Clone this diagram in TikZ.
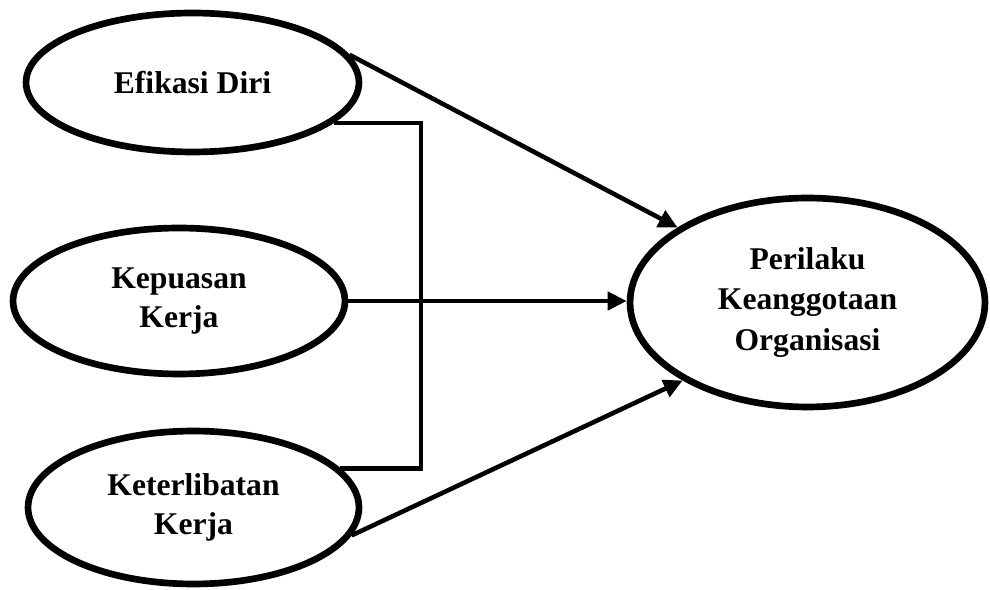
\documentclass[tikz,border=0pt]{standalone}
\usepackage{fontspec}
\setmainfont{Liberation Serif}
\usetikzlibrary{shapes.geometric,arrows.meta}
\begin{document}
\begin{tikzpicture}[x=0.02cm,y=-0.02cm,
  var/.style={ellipse,draw,line width=3.8pt,inner sep=0pt,align=center,
    font=\fontsize{18}{22}\selectfont\bfseries},
  link/.style={line width=2.6pt,-{Triangle[length=0.38cm,width=0.36cm]}},
  brace/.style={line width=2.7pt}]
\useasboundingbox (0,0) rectangle (990,590);
\node[var,minimum width=6.66cm,minimum height=2.78cm] (ef) at (192.5,82.5) {Efikasi Diri};
\node[var,minimum width=6.64cm,minimum height=2.92cm] (kp) at (179,301) {Kepuasan\\Kerja};
\node[var,minimum width=6.62cm,minimum height=3.06cm] (kt) at (193.5,507.5) {Keterlibatan\\Kerja};
\node[var,minimum width=7.1cm,minimum height=4.18cm,font=\fontsize{18}{23}\selectfont\bfseries] (pe) at (807.5,302.5) {Perilaku\\Keanggotaan\\Organisasi};
\coordinate (bx) at (421,0);
\draw[brace] (ef.-16) -| (kt.15 -| bx) -- (kt.15);
\draw[link] (ef.10) -- (pe.150);
\draw[link] (kp.east) -- (kp.east -| pe.west);
\draw[link] (kt.-10) -- (pe.212);
\end{tikzpicture}
\end{document}
